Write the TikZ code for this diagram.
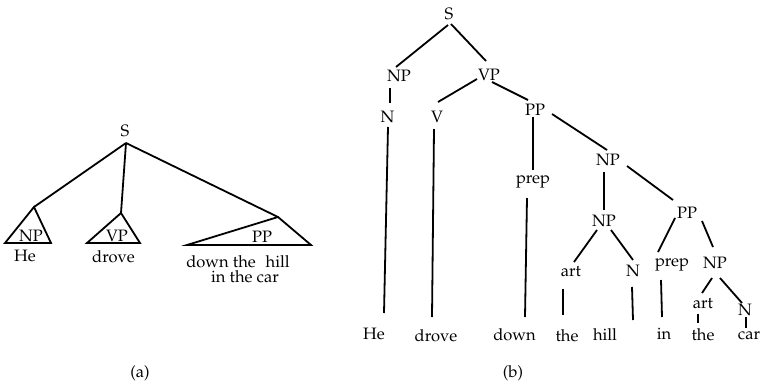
\documentclass[tikz,border=0pt]{standalone}
\usepackage[T1]{fontenc}
\usepackage{mathpazo}
\begin{document}
\begin{tikzpicture}[x=1pt,y=-1pt,
  lbl/.style={anchor=base,inner sep=0pt,font=\fontsize{16.5}{19}\selectfont},
  edge/.style={line width=1.8pt},
  tri/.style={line width=1.8pt,line join=miter}]
\useasboundingbox (0,0) rectangle (762,386);

% ---------------- tree (a) ----------------
\node[lbl] (aS) at (125,136) {S};
\coordinate (aS-b) at (126,143);
\coordinate (aNP-t) at (34,207);
\coordinate (aNP-l) at (5,243);
\coordinate (aNP-r) at (51,243);
\coordinate (aVP-t) at (121,213);
\coordinate (aVP-l) at (87,243);
\coordinate (aVP-r) at (140,243);
\coordinate (aPP-t) at (278,217);
\coordinate (aPP-l) at (187,245);
\coordinate (aPP-r) at (311,245);
\draw[tri] (aNP-t) -- (aNP-l) -- (aNP-r) -- cycle;
\draw[tri] (aVP-t) -- (aVP-l) -- (aVP-r) -- cycle;
\draw[tri] (aPP-t) -- (aPP-l) -- (aPP-r) -- cycle;
\draw[edge] (aS-b) -- (aNP-t);
\draw[edge] (aS-b) -- (aVP-t);
\draw[edge] (aS-b) -- (aPP-t);
\node[lbl] (aNP) at (31,241) {NP};
\node[lbl] (aVP) at (117,241) {VP};
\node[lbl] (aPP) at (262,242) {PP};
\node[lbl] (aHe) at (25,261) {He};
\node[lbl] (adrove) at (113.5,262) {drove};
\node[lbl] (adown) at (238,267) {down the\hspace{0.6em}hill};
\node[lbl] (ainthe) at (245,282.5) {in the car};
\node[lbl] (alabel) at (140,377) {(a)};

% ---------------- tree (b) ----------------
\node[lbl] (S) at (449,19) {S};
\node[lbl] (NP) at (399,81) {NP};
\node[lbl] (N) at (387.5,122) {N};
\node[lbl] (VP) at (489,80) {VP};
\node[lbl] (V) at (437,122) {V};
\node[lbl] (PP) at (535,115) {PP};
\node[lbl] (prep) at (533,183) {prep};
\node[lbl] (NPa) at (608,165) {NP};
\node[lbl] (NPb) at (604,226) {NP};
\node[lbl] (PPb) at (687,218) {PP};
\node[lbl] (art) at (571,276) {art};
\node[lbl] (Nb) at (633,276) {N};
\node[lbl] (prepb) at (672,266.5) {prep};
\node[lbl] (NPc) at (715,268) {NP};
\node[lbl] (artb) at (703,308) {art};
\node[lbl] (Nc) at (745,315) {N};
\node[lbl] (He) at (374,339) {He};
\node[lbl] (drove) at (436,341) {drove};
\node[lbl] (down) at (514.5,340) {down};
\node[lbl] (the) at (567,341.5) {the};
\node[lbl] (hill) at (605,340) {hill};
\node[lbl] (in) at (664,339) {in};
\node[lbl] (theb) at (703,340) {the};
\node[lbl] (car) at (749,339) {car};
\node[lbl] (blabel) at (513,377) {(b)};

% connector end points
\coordinate (S-l) at (448,25);   \coordinate (NP-t) at (396,67);
\coordinate (S-r) at (451,24);   \coordinate (VP-t) at (486,61);
\coordinate (NP-b) at (390,88);  \coordinate (N-t) at (390,103);
\coordinate (N-b) at (388,127);  \coordinate (He-t) at (384,313);
\coordinate (VP-l) at (477,79);  \coordinate (V-t) at (438,102);
\coordinate (VP-r) at (492,82);  \coordinate (PP-t) at (528,100);
\coordinate (V-b) at (434,129);  \coordinate (drove-t) at (432,317);
\coordinate (PP-b) at (533,117); \coordinate (prep-t) at (533,170);
\coordinate (prep-b) at (527,198); \coordinate (down-t) at (525,317);
\coordinate (PP-r) at (552,114); \coordinate (NPa-t) at (607,150);
\coordinate (NPa-b) at (604,172); \coordinate (NPb-t) at (604,210);
\coordinate (NPa-r) at (627,166); \coordinate (PPb-t) at (673,200);
\coordinate (NPb-l) at (597,230); \coordinate (art-t) at (574,262);
\coordinate (NPb-r) at (611,230); \coordinate (Nb-t) at (633,260);
\coordinate (art-b) at (563,289); \coordinate (the-t) at (563,315);
\coordinate (Nb-b) at (632,287);  \coordinate (hill-t) at (633,320);
\coordinate (PPb-l) at (675,218); \coordinate (prepb-t) at (658,252);
\coordinate (PPb-r) at (702,221); \coordinate (NPc-t) at (713,247);
\coordinate (prepb-b) at (661,280); \coordinate (in-t) at (662,317);
\coordinate (NPc-l) at (712,278); \coordinate (artb-t) at (702,293);
\coordinate (NPc-r) at (720,278); \coordinate (Nc-t) at (742,303);
\coordinate (artb-b) at (698,314); \coordinate (theb-t) at (698,323);
\coordinate (Nc-b) at (746,317);  \coordinate (car-t) at (746,328);

\draw[edge] (S-l) -- (NP-t);
\draw[edge] (S-r) -- (VP-t);
\draw[edge] (NP-b) -- (N-t);
\draw[edge] (N-b) -- (He-t);
\draw[edge] (VP-l) -- (V-t);
\draw[edge] (VP-r) -- (PP-t);
\draw[edge] (V-b) -- (drove-t);
\draw[edge] (PP-b) -- (prep-t);
\draw[edge] (prep-b) -- (down-t);
\draw[edge] (PP-r) -- (NPa-t);
\draw[edge] (NPa-b) -- (NPb-t);
\draw[edge] (NPa-r) -- (PPb-t);
\draw[edge] (NPb-l) -- (art-t);
\draw[edge] (NPb-r) -- (Nb-t);
\draw[edge] (art-b) -- (the-t);
\draw[edge] (Nb-b) -- (hill-t);
\draw[edge] (PPb-l) -- (prepb-t);
\draw[edge] (PPb-r) -- (NPc-t);
\draw[edge] (prepb-b) -- (in-t);
\draw[edge] (NPc-l) -- (artb-t);
\draw[edge] (NPc-r) -- (Nc-t);
\draw[edge] (artb-b) -- (theb-t);
\draw[edge] (Nc-b) -- (car-t);
\end{tikzpicture}
\end{document}
